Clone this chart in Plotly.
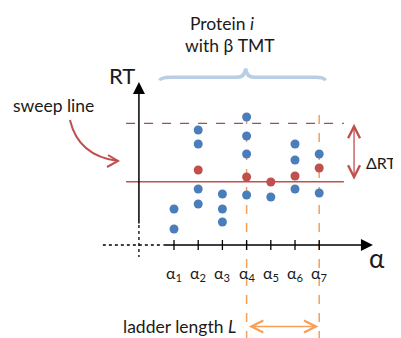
import plotly.graph_objects as go

# ---- data (alpha index, retention time in arbitrary units) ----
alpha_idx = [1, 2, 3, 4, 5, 6, 7]
alpha_labels = ["α<sub>1</sub>", "α<sub>2</sub>", "α<sub>3</sub>", "α<sub>4</sub>",
                "α<sub>5</sub>", "α<sub>6</sub>", "α<sub>7</sub>"]
blue_alpha = [1, 1, 2, 2, 2, 2, 3, 3, 3, 4, 4, 4, 4, 5, 6, 6, 6, 7, 7]
blue_rt = [3.6, 1.6, 11.5, 10.1, 5.6, 4.1, 5.1, 3.6, 2.3, 12.8, 10.9, 9.1, 5.0,
           4.8, 10.1, 8.5, 5.6, 9.1, 5.2]
red_alpha = [2, 4, 5, 6, 7]
red_rt = [7.5, 6.8, 6.3, 6.9, 7.7]
sweep_rt = 6.33
delta_rt = 5.84
ladder = [4, 7]

BLUE = "#4a7ebb"
RED = "#c0504d"
DRED = "#a0504e"
ORANGE = "#f5a05a"
BRACE = "#b9cde5"
TXT = "#1a1a1a"
FONT = "Lato"
FS = 17.5

fig = go.Figure()
fig.add_trace(go.Scatter(x=blue_alpha, y=blue_rt, mode="markers",
                         marker=dict(color=BLUE, size=9), hoverinfo="skip"))
fig.add_trace(go.Scatter(x=red_alpha, y=red_rt, mode="markers",
                         marker=dict(color=RED, size=9), hoverinfo="skip"))

shapes = []
anns = []

# axes: dotted parts
shapes.append(dict(type="line", x0=-1.94, x1=0.5, y0=0, y1=0,
                   line=dict(color="black", width=1.3, dash="dot")))
shapes.append(dict(type="line", x0=-0.45, x1=-0.45, y0=2.0, y1=-1.2,
                   line=dict(color="black", width=1.3, dash="dot")))
# solid axes with arrows
anns.append(dict(x=9.22, y=0, ax=0.5, ay=0, xref="x", yref="y", axref="x", ayref="y",
                 text="", showarrow=True, arrowhead=2, arrowsize=1.6, arrowwidth=1.5,
                 arrowcolor="black"))
anns.append(dict(x=-0.45, y=16.3, ax=-0.45, ay=2.0, xref="x", yref="y", axref="x", ayref="y",
                 text="", showarrow=True, arrowhead=2, arrowsize=1.6, arrowwidth=1.5,
                 arrowcolor="black"))
# ticks & tick labels
for k, lab in zip(alpha_idx, alpha_labels):
    shapes.append(dict(type="line", x0=k, x1=k, y0=-0.5, y1=0.5,
                       line=dict(color="black", width=1.3)))
    anns.append(dict(x=k, y=-2.8, text=lab, showarrow=False,
                     font=dict(size=16, color=TXT, family=FONT)))

# sweep line and upper dashed line
shapes.append(dict(type="line", x0=-0.98, x1=8.02, y0=sweep_rt, y1=sweep_rt,
                   line=dict(color=RED, width=1.5), layer="below"))
shapes.append(dict(type="line", x0=-0.98, x1=8.02, y0=sweep_rt + delta_rt,
                   y1=sweep_rt + delta_rt,
                   line=dict(color=DRED, width=1.3, dash="dash"), layer="below"))

# ladder dashed verticals
for k in ladder:
    shapes.append(dict(type="line", x0=k, x1=k, y0=13.0, y1=-9.4,
                       line=dict(color=ORANGE, width=1.5, dash="dash"), layer="below"))

# delta RT double arrow
anns.append(dict(x=8.44, y=sweep_rt + delta_rt - 0.05, ax=8.44, ay=sweep_rt + 0.05,
                 xref="x", yref="y", axref="x", ayref="y", text="", showarrow=True,
                 arrowhead=5, startarrowhead=5, arrowside="end+start", arrowsize=1.8,
                 startarrowsize=1.8, arrowwidth=1.3, arrowcolor=RED))
anns.append(dict(x=10.22, y=8.3, xanchor="right", text="ΔRT", showarrow=False,
                 borderpad=0, font=dict(size=16, color=TXT, family=FONT)))

# ladder length arrow
anns.append(dict(x=ladder[1] - 0.03, y=-8.15, ax=ladder[0] + 0.03, ay=-8.15,
                 xref="x", yref="y", axref="x", ayref="y", text="", showarrow=True,
                 arrowhead=5, startarrowhead=5, arrowside="end+start", arrowsize=1.8,
                 startarrowsize=1.8, arrowwidth=1.3, arrowcolor=ORANGE))
anns.append(dict(x=3.65, y=-8.15, xanchor="right", text="ladder length <i>L</i>",
                 showarrow=False, font=dict(size=FS, color=TXT, family=FONT)))

# axis labels
anns.append(dict(x=-1.13, y=17.0, text="RT", showarrow=False,
                 font=dict(size=22, color=TXT, family=FONT)))
anns.append(dict(x=9.39, y=-1.3, text="α", showarrow=False,
                 font=dict(size=26, color=TXT, family=FONT)))

# sweep line label + curved arrow
anns.append(dict(x=-3.98, y=14.0, text="sweep line", showarrow=False,
                 font=dict(size=FS, color=TXT, family=FONT)))
shapes.append(dict(type="path", path="M -3.30,12.5 Q -2.95,8.9 -1.314,8.4",
                   line=dict(color=RED, width=2)))
shapes.append(dict(type="path", path="M -1.727,9.0 L -1.314,8.4 L -1.769,7.8",
                   line=dict(color=RED, width=2)))

# brace
shapes.append(dict(type="path",
                   path=("M 0.42,16.45 Q 0.45,16.77 0.85,16.77 L 3.6,16.77 "
                         "Q 3.93,16.77 3.96,17.65 Q 3.99,16.77 4.32,16.77 L 6.85,16.77 "
                         "Q 7.22,16.77 7.25,16.45"),
                   line=dict(color=BRACE, width=3.5)))
anns.append(dict(x=2.98, y=22.2, text="Protein <i>i</i>", showarrow=False,
                 font=dict(size=FS, color=TXT, family=FONT)))
anns.append(dict(x=3.31, y=20.0, text="with β TMT", showarrow=False,
                 font=dict(size=FS, color=TXT, family=FONT)))

# page body has an 8px margin: figure is 393x330 placed at (8, 8)
fig.update_layout(
    width=393, height=330, margin=dict(l=0, r=0, t=0, b=0),
    paper_bgcolor="white", plot_bgcolor="white", showlegend=False,
    xaxis=dict(range=[-5.86, 10.38], visible=False, fixedrange=True),
    yaxis=dict(range=[-9.3, 23.7], visible=False, fixedrange=True),
    shapes=shapes, annotations=anns,
)
fig.write_html("out.html", config={"displayModeBar": False})
